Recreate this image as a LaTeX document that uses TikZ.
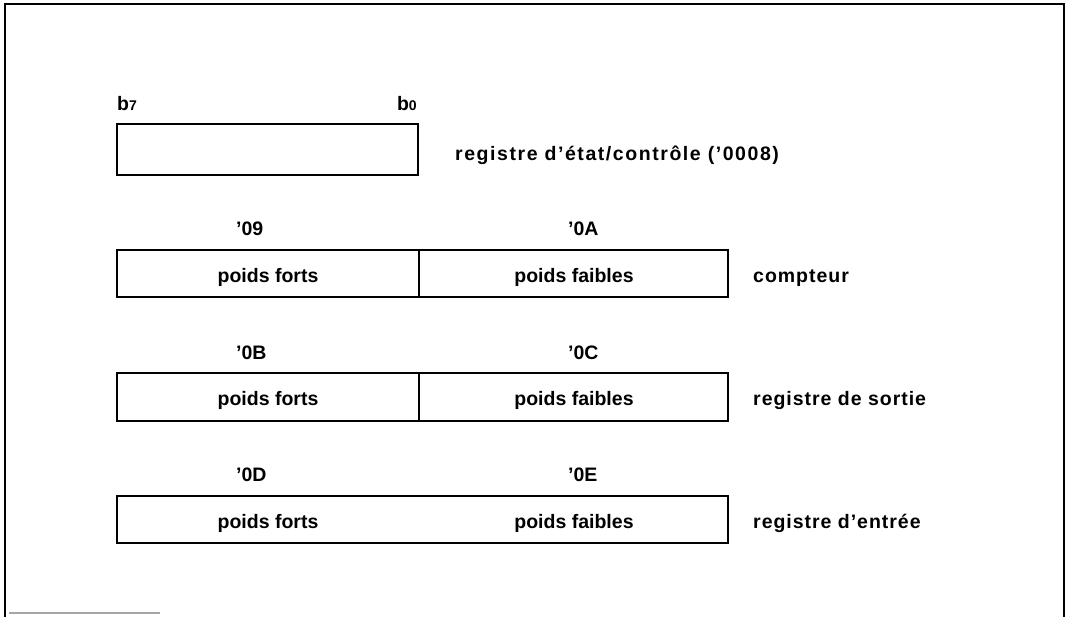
\documentclass[tikz,border=0pt]{standalone}
\usepackage{fontspec}
\setmainfont{Liberation Sans}
\begin{document}
\begin{tikzpicture}[x=1pt,y=-1pt,
  reg/.style={draw=black, line width=2.8pt},
  lbl/.style={font=\fontsize{19.5}{22}\selectfont\bfseries, inner sep=0pt, text=black},
  side/.style={lbl, anchor=base west, font=\fontsize{19.5}{22}\selectfont\bfseries\addfontfeatures{LetterSpace=5}},
  hexl/.style={lbl, anchor=base west},
  half/.style={lbl, anchor=base},
  frameline/.style={draw=black, line width=1.6pt}
]
\useasboundingbox (0,0) rectangle (1068,621);
% frame
\draw[frameline] (5,617) -- (5,4) -- (1064,4) -- (1064,617);
\draw[draw=black, line width=2.8pt] (5,100) -- (5,617);
\draw[draw=black, line width=2.8pt] (1064,40) -- (1064,617);
\draw[draw=black!35, line width=1.4pt] (9,613) -- (160,613);
% status register
\draw[reg] (117,124) rectangle (418,175);
\node[lbl, anchor=base west] (b7) at (117,110) {b\scalebox{0.72}{7}};
\node[lbl, anchor=base east] (b0) at (417,110) {b\scalebox{0.72}{0}};
\node[side, font=\fontsize{19.5}{22}\selectfont\bfseries\addfontfeatures{LetterSpace=8}] (etat) at (455,160) {registre d’état/contrôle (’0008)};
% row 1
\draw[reg] (117,250) rectangle (728,297);
\draw[reg] (419,250) -- (419,297);
\node[hexl] (h09) at (236,235) {’09};
\node[hexl] (h0A) at (568,235) {’0A};
\node[half] (pf1) at (268,282) {poids forts};
\node[half] (pb1) at (574,282) {poids faibles};
\node[side] (cpt) at (753,282) {compteur};
% row 2
\draw[reg] (117,373) rectangle (728,421);
\draw[reg] (419,373) -- (419,421);
\node[hexl] (h0B) at (236,359) {’0B};
\node[hexl] (h0C) at (568,359) {’0C};
\node[half] (pf2) at (268,405) {poids forts};
\node[half] (pb2) at (574,405) {poids faibles};
\node[side] (sortie) at (753,405) {registre de sortie};
% row 3
\draw[reg] (117,496) rectangle (728,543);
\node[hexl] (h0D) at (236,481) {’0D};
\node[hexl] (h0E) at (568,481) {’0E};
\node[half] (pf3) at (268,528) {poids forts};
\node[half] (pb3) at (574,528) {poids faibles};
\node[side] (entree) at (753,528) {registre d’entrée};
\end{tikzpicture}
\end{document}
